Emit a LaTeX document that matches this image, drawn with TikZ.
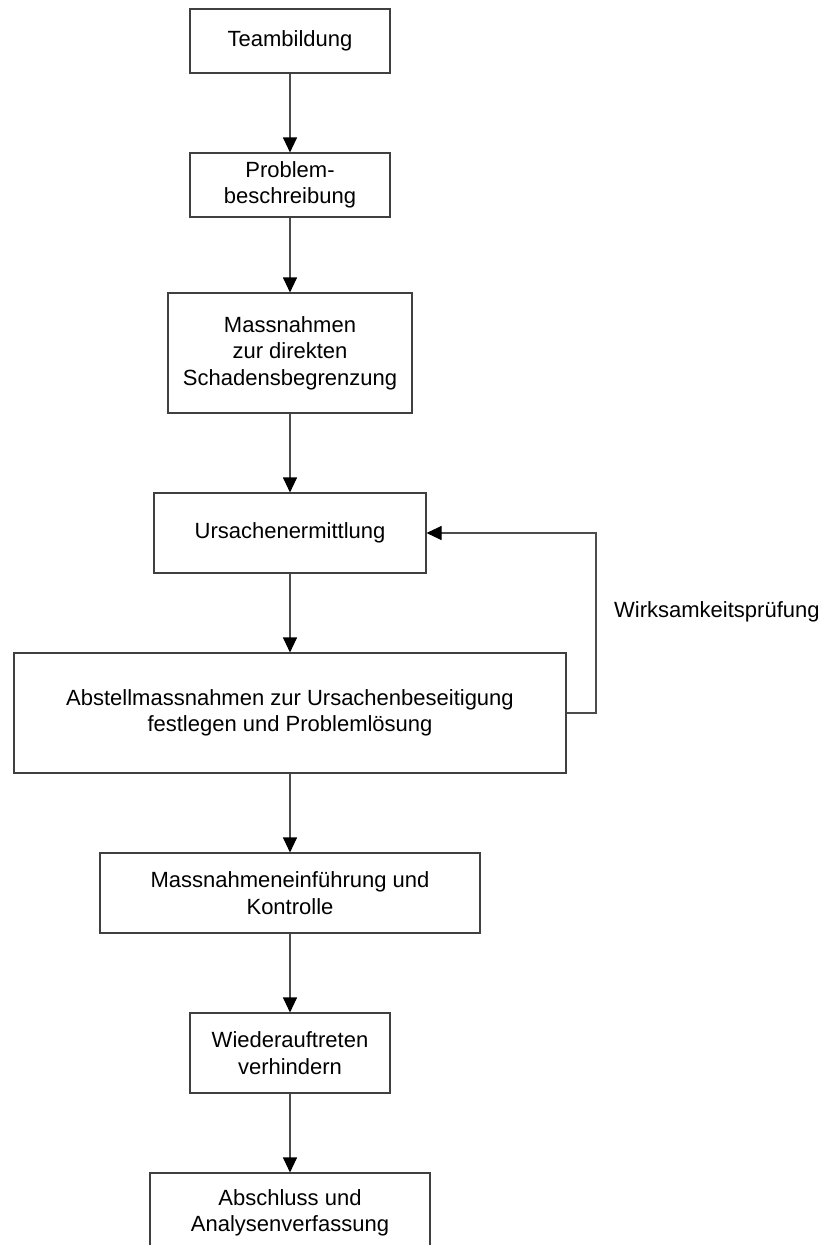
\documentclass[tikz,border=0pt]{standalone}
\usepackage{fontspec}
\setmainfont{Liberation Sans}
\usetikzlibrary{arrows.meta}
\begin{document}
\begin{tikzpicture}[x=1pt,y=-1pt,
  box/.style={draw=black!75, line width=1.1pt, inner sep=0pt, align=center,
    font=\fontsize{22}{26.5}\selectfont, text=black},
  flow/.style={draw=black!70, line width=1.1pt,
    -{Triangle[length=15pt,width=14pt,color=black]}},
  lbl/.style={font=\fontsize{22}{26.5}\selectfont, text=black, inner sep=0pt}]
\useasboundingbox (0,0) rectangle (826,1245);
\node[box, minimum width=200pt, minimum height=64pt] (t) at (290,41) {Teambildung};
\node[box, minimum width=200pt, minimum height=64pt] (p) at (290,185) {Problem-\\beschreibung};
\node[box, minimum width=244pt, minimum height=120pt] (m) at (290,353) {Massnahmen\\zur direkten\\Schadensbegrenzung};
\node[box, minimum width=272pt, minimum height=80pt] (u) at (290,533) {Ursachenermittlung};
\node[box, minimum width=552pt, minimum height=120pt] (a) at (290,713) {Abstellmassnahmen zur Ursachenbeseitigung\\festlegen und Problemlösung};
\node[box, minimum width=380pt, minimum height=80pt] (e) at (290,893) {Massnahmeneinführung und\\Kontrolle};
\node[box, minimum width=200pt, minimum height=80pt] (w) at (290,1053) {Wiederauftreten\\verhindern};
\node[box, minimum width=280pt, minimum height=80pt] (s) at (290,1213) {Abschluss und\\Analysenverfassung};
\draw[flow] (t) -- (p);
\draw[flow] (p) -- (m);
\draw[flow] (m) -- (u);
\draw[flow] (u) -- (a);
\draw[flow] (a) -- (e);
\draw[flow] (e) -- (w);
\draw[flow] (w) -- (s);
\coordinate (fb) at (596,713);
\draw[flow] (a.east) -- (fb) |- (u.east);
\node[lbl, anchor=west] (wl) at (614,612) {Wirksamkeitsprüfung};
\end{tikzpicture}
\end{document}
